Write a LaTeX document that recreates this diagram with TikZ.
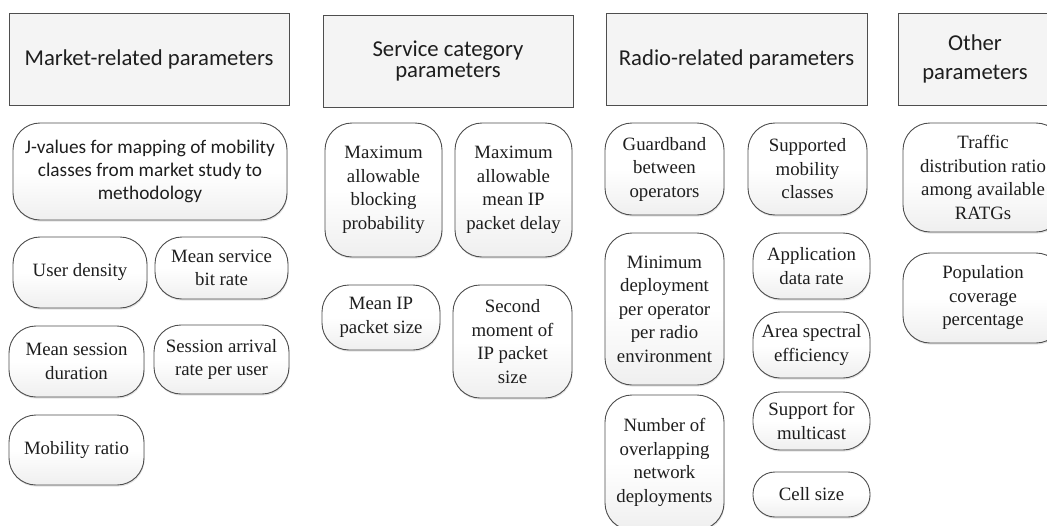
\documentclass[tikz,border=0pt]{standalone}
\usepackage{fontspec}
\setmainfont{Liberation Serif}
\newfontfamily\headfont{Carlito}
\usetikzlibrary{shadows}
\definecolor{edge}{HTML}{4E4E4E}
\definecolor{headfill}{HTML}{F4F4F4}
\definecolor{boxfill}{HTML}{EFEFEF}
\definecolor{ink}{HTML}{1E1E1E}
\begin{document}
\begin{tikzpicture}[x=1pt,y=-1pt,
  head/.style={draw=edge, fill=headfill, line width=0.9pt, inner sep=0pt,
    align=center, text=ink, font=\headfont\fontsize{22.7}{24}\selectfont},
  pbox/.style={draw=edge, rounded corners=27pt, top color=white, bottom color=boxfill,
    middle color=white,
    line width=0.9pt, inner sep=0pt, align=center, text=ink,
    font=\fontsize{18.8}{23.5}\selectfont,
    drop shadow={opacity=0.22, shadow xshift=0.6pt, shadow yshift=-1.6pt}},
  sz/.style 2 args={minimum width=#1, minimum height=#2}
]
\useasboundingbox (0,0) rectangle (1047,525);
\fill[white] (0,0) rectangle (1047,525);
\clip (0,0) rectangle (1047,525);

% column headers
\node[head, sz={280}{92}] (mkh) at (149,59) {Market-related parameters};
\node[head, sz={250}{92}, font=\headfont\fontsize{22.7}{21}\selectfont] (svh) at (448,61) {Service category\\parameters};
\node[head, sz={261}{92}] (rah) at (736.5,59) {Radio-related parameters};
\node[head, sz={154}{92}, font=\headfont\fontsize{22.7}{29}\selectfont] (oth) at (975,59) {Other\\parameters};

% market-related parameters
\node[pbox, sz={274}{97}, font=\headfont\fontsize{19.3}{23}\selectfont] (jval) at (150,171.5)
  {J-values for mapping of mobility\\classes from market study to\\methodology};
\node[pbox, sz={134}{71}] (udens) at (80,272.5) {User density};
\node[pbox, sz={133}{62}] (mbit) at (221.5,268) {Mean service\\bit rate};
\node[pbox, sz={135}{71}] (sdur) at (76.5,361.5) {Mean session\\duration};
\node[pbox, sz={135}{69}] (sarr) at (221.5,359.5) {Session arrival\\rate per user};
\node[pbox, sz={135}{70}] (mob) at (76.5,450) {Mobility ratio};

% service category parameters
\node[pbox, sz={117}{134}] (block) at (383.5,190) {Maximum\\allowable\\blocking\\probability};
\node[pbox, sz={117}{134}] (delay) at (513.5,190) {Maximum\\allowable\\mean IP\\packet delay};
\node[pbox, sz={118}{65}] (ipsz) at (381,317.5) {Mean IP\\packet size};
\node[pbox, sz={119}{113}] (ipmom) at (512.5,341.5) {Second\\moment of\\IP packet\\size};

% radio-related parameters
\node[pbox, sz={119}{92}] (guard) at (664.5,169) {Guardband\\between\\operators};
\node[pbox, sz={119}{92}] (smob) at (807.5,169) {Supported\\mobility\\classes};
\node[pbox, sz={119}{152}] (mindep) at (664.5,309) {Minimum\\deployment\\per operator\\per radio\\environment};
\node[pbox, sz={119}{135}] (overlap) at (664.5,462.5) {Number of\\overlapping\\network\\deployments};
\node[pbox, sz={117}{66}] (appr) at (811.5,266) {Application\\data rate};
\node[pbox, sz={117}{66}] (aspec) at (811.5,345) {Area spectral\\efficiency};
\node[pbox, sz={117}{58}] (mcast) at (811.5,421) {Support for\\multicast};
\node[pbox, sz={117}{45}, rounded corners=22pt] (cell) at (811.5,494.5) {Cell size};

% other parameters
\node[pbox, sz={160}{109}] (traffic) at (983,177.5) {Traffic\\distribution ratio\\among available\\RATGs};
\node[pbox, sz={160}{90}] (popcov) at (983,298) {Population\\coverage\\percentage};
\end{tikzpicture}
\end{document}
